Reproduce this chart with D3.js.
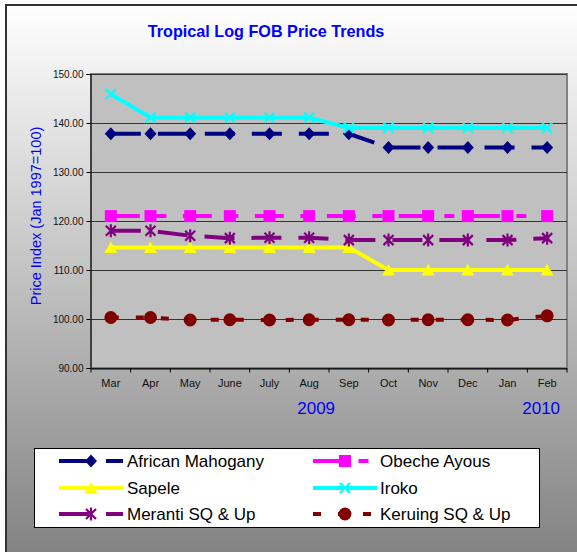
<!DOCTYPE html>
<html>
<head>
<meta charset="utf-8">
<script src="https://cdn.jsdelivr.net/npm/d3@7"></script>
<style>
  body { margin: 0; background: #fff; }
  svg { display: block; font-family: "Liberation Sans", Arial, sans-serif; }
</style>
</head>
<body>
<div id="chart"></div>
<script>
// chart values
var months = ["Mar", "Apr", "May", "June", "July", "Aug", "Sep", "Oct", "Nov", "Dec", "Jan", "Feb"];
var yTicks = [90, 100, 110, 120, 130, 140, 150];
var mahogany = [137.8, 137.8, 137.8, 137.8, 137.8, 137.8, 137.8, 135, 135, 135, 135, 135];
var obeche = [121, 121, 121, 121, 121, 121, 121, 121, 121, 121, 121, 121];
var sapele = [114.6, 114.6, 114.6, 114.6, 114.6, 114.6, 114.6, 110, 110, 110, 110, 110];
var iroko = [145.9, 141.1, 141.1, 141.1, 141.1, 141.1, 139, 139, 139, 139, 139, 139];
var meranti = [118, 118, 117, 116.5, 116.6, 116.6, 116.1, 116.1, 116.1, 116.1, 116.1, 116.5];
var keruing = [100.3, 100.3, 99.8, 99.85, 99.8, 99.85, 99.85, 99.8, 99.85, 99.85, 99.8, 100.65];
var years = [{label: "2009", month: "Aug", dx: 7}, {label: "2010", month: "Feb", dx: -6}];

var series = [
  {name: "African Mahogany", values: mahogany, color: "#000080", dash: "30,17", marker: "diamond"},
  {name: "Obeche Ayous", values: obeche, color: "#ff00ff", dash: "29,16.5,10,16.5", marker: "square"},
  {name: "Sapele", values: sapele, color: "#ffff00", dash: null, marker: "triangle"},
  {name: "Iroko", values: iroko, color: "#00ffff", dash: null, marker: "x"},
  {name: "Meranti SQ & Up", values: meranti, color: "#800080", dash: "30,17", marker: "star"},
  {name: "Keruing SQ & Up", values: keruing, color: "#800000", dash: "8,17", marker: "circle"}
];

var W = 577, H = 552;
var plot = {left: 91, right: 567, top: 74, bottom: 368};

var svg = d3.select("#chart").append("svg")
  .attr("width", W).attr("height", H);

// background gradient
var grad = svg.append("defs").append("linearGradient")
  .attr("id", "bg").attr("x1", 0).attr("y1", 0).attr("x2", 0).attr("y2", 1);
grad.append("stop").attr("offset", "0%").attr("stop-color", "#ffffff");
grad.append("stop").attr("offset", "100%").attr("stop-color", "#7e7e7e");

svg.append("rect").attr("x", 0).attr("y", 0).attr("width", W).attr("height", H).attr("fill", "#fff");
svg.append("rect")
  .attr("x", 6).attr("y", 5).attr("width", W + 20).attr("height", H + 20)
  .attr("fill", "url(#bg)").attr("stroke", "#333").attr("stroke-width", 2);

// title
svg.append("text")
  .attr("x", 266).attr("y", 37)
  .attr("text-anchor", "middle")
  .attr("font-size", 16.2).attr("font-weight", "bold")
  .attr("fill", "#0000ff")
  .text("Tropical Log FOB Price Trends");

// scales
var x = d3.scaleBand().domain(months).range([plot.left, plot.right]);
var y = d3.scaleLinear().domain([90, 150]).range([plot.bottom, plot.top]);
var cx = function(m) { return x(m) + x.bandwidth() / 2; };

// plot area
svg.append("rect")
  .attr("x", plot.left).attr("y", plot.top)
  .attr("width", plot.right - plot.left).attr("height", plot.bottom - plot.top)
  .attr("fill", "#c0c0c0").attr("stroke", "#808080").attr("stroke-width", 2);

// gridlines
svg.append("g")
  .attr("transform", "translate(" + plot.left + ",0)")
  .call(d3.axisLeft(y).tickValues(yTicks).tickSize(-(plot.right - plot.left)).tickFormat(""))
  .call(function(g) {
    g.select(".domain").remove();
    g.selectAll("line").attr("stroke", "#333").attr("stroke-width", 1);
  });

// y axis
svg.append("g")
  .attr("transform", "translate(" + (plot.left - 0.5) + ",0)")
  .call(d3.axisLeft(y).tickValues(yTicks).tickSize(4).tickPadding(3).tickFormat(d3.format(".2f")))
  .call(function(g) {
    g.select(".domain").attr("stroke", "#000");
    g.selectAll("text").attr("font-size", 10).attr("fill", "#111")
      .attr("font-family", "Liberation Sans, Arial, sans-serif");
  });

svg.append("text")
  .attr("transform", "translate(41,216) rotate(-90)")
  .attr("text-anchor", "middle")
  .attr("font-size", 14.5).attr("fill", "#0000ff")
  .text("Price Index (Jan 1997=100)");

// x axis (labels centred on months, ticks at band edges)
var xAxis = svg.append("g")
  .attr("transform", "translate(0," + (plot.bottom + 0.5) + ")");
xAxis.call(d3.axisBottom(x).tickSize(0).tickPadding(11))
  .call(function(g) {
    g.select(".domain").attr("stroke", "#000");
    g.selectAll("text").attr("font-size", 11).attr("fill", "#111")
      .attr("font-family", "Liberation Sans, Arial, sans-serif");
  });
var edges = months.map(function(m) { return x(m); }).concat([plot.right]);
xAxis.selectAll(".edge").data(edges).enter().append("line")
  .attr("x1", function(d) { return d; }).attr("x2", function(d) { return d; })
  .attr("y1", 0).attr("y2", 4)
  .attr("stroke", "#000");

svg.selectAll(".year").data(years).enter().append("text")
  .attr("x", function(d) { return cx(d.month) + d.dx; })
  .attr("y", 414)
  .attr("text-anchor", "middle")
  .attr("font-size", 17).attr("fill", "#0000ff")
  .text(function(d) { return d.label; });

// marker shapes
function markerPath(type) {
  if (type == "diamond") return "M0,-6.5L6,0L0,6.5L-6,0Z";
  if (type == "square") return "M-6,-6H6V6H-6Z";
  if (type == "triangle") return "M0,-6L6.5,5.5L-6.5,5.5Z";
  if (type == "circle") return d3.symbol().type(d3.symbolCircle).size(Math.PI * 42)();
  if (type == "x") return "M-5,-5L5,5M-5,5L5,-5";
  return "M-5,-5L5,5M-5,5L5,-5M0,-6.5L0,6.5";
}
function drawMarker(sel, s) {
  var filled = s.marker != "x" && s.marker != "star";
  sel.append("path")
    .attr("d", markerPath(s.marker))
    .attr("fill", filled ? s.color : "none")
    .attr("stroke", filled ? "none" : s.color)
    .attr("stroke-width", 2.2);
}

var line = d3.line()
  .x(function(d, i) { return cx(months[i]); })
  .y(function(d) { return y(d); });

// series lines then markers
series.forEach(function(s) {
  svg.append("path")
    .datum(s.values)
    .attr("d", line)
    .attr("fill", "none")
    .attr("stroke", s.color)
    .attr("stroke-width", 4)
    .attr("stroke-dasharray", s.dash);
});
series.forEach(function(s) {
  s.values.forEach(function(v, i) {
    var g = svg.append("g").attr("transform", "translate(" + cx(months[i]) + "," + y(v) + ")");
    drawMarker(g, s);
  });
});

// legend
var legend = svg.append("g");
legend.append("rect")
  .attr("x", 34.5).attr("y", 448.5).attr("width", 505).attr("height", 79)
  .attr("fill", "#fff").attr("stroke", "#000").attr("stroke-width", 1);

var legX = [59, 313], textX = [127, 380], rowY = [461, 488, 514];
series.forEach(function(s, i) {
  var col = i % 2, row = Math.floor(i / 2);
  var g = legend.append("g").attr("transform", "translate(" + legX[col] + "," + rowY[row] + ")");
  g.append("line")
    .attr("x1", 0).attr("x2", 64).attr("y1", 0).attr("y2", 0)
    .attr("stroke", s.color).attr("stroke-width", 4)
    .attr("stroke-dasharray", s.dash);
  drawMarker(g.append("g").attr("transform", "translate(32,0)"), s);
  legend.append("text")
    .attr("x", textX[col]).attr("y", rowY[row] + 6)
    .attr("font-size", 17).attr("fill", "#000")
    .text(s.name);
});
</script>
</body>
</html>
